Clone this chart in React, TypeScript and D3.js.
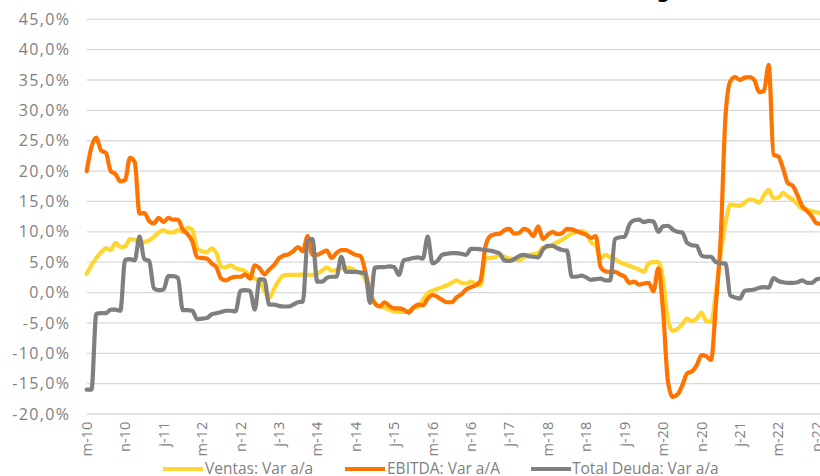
import React from "react";
import * as d3 from "d3";

// ---- DATA (monthly, year-on-year %, from m-10) ----
const START_YEAR = 2010;
const START_MONTH = 2; // March (0-based)
const MONTH_LETTERS = ["e", "f", "m", "a", "m", "j", "j", "a", "s", "o", "n", "d"];

const ventas = [
  3.1, 4.5, 5.7, 6.6, 7.3, 7.0, 8.2, 7.5, 7.6, 8.8, 8.7, 8.0, 8.3, 8.6, 9.2, 9.9,
  10.3, 9.9, 9.9, 10.3, 10.0, 10.7, 10.3, 7.3, 6.8, 6.6, 7.3, 6.5, 4.3, 4.2, 4.5, 4.0,
  3.8, 3.5, 2.7, 2.3, 1.8, 0.3, -0.9, 0.6, 2.0, 2.8, 2.9, 2.9, 2.9, 3.0, 2.9, 2.9,
  3.1, 3.6, 4.1, 3.6, 3.7, 4.0, 4.1, 4.0, 3.5, 3.2, 2.2, -0.2, -1.7, -2.2, -2.5, -2.8,
  -3.1, -3.2, -3.2, -3.0, -2.6, -2.3, -1.2, -0.1, 0.3, 0.6, 0.9, 1.2, 1.6, 2.0, 1.6, 1.5,
  1.8, 1.4, 1.2, 5.6, 5.7, 5.8, 6.2, 5.9, 5.6, 5.5, 5.3, 5.8, 6.2, 6.3, 6.5, 7.4,
  7.5, 7.9, 8.3, 8.7, 9.2, 9.7, 10.0, 10.1, 9.8, 8.3, 7.8, 5.6, 6.2, 5.8, 5.5, 5.0,
  4.7, 4.4, 4.1, 3.8, 3.4, 4.8, 5.0, 5.0, 2.0, -4.5, -6.3, -6.0, -5.2, -4.3, -4.7, -4.3,
  -3.3, -4.7, -4.8, 0.0, 6.5, 11.5, 14.5, 14.4, 14.3, 14.8, 15.3, 15.2, 14.8, 16.0, 16.9, 15.5,
  15.6, 16.4, 15.8, 15.3, 14.5, 13.8, 13.7, 13.4, 13.2, 13.0,
];

const ebitda = [
  20.0, 24.0, 25.5, 23.4, 23.0, 20.0, 19.5, 18.3, 18.5, 22.2, 21.5, 13.0, 13.1, 11.8, 11.4, 12.3,
  11.6, 12.3, 12.0, 12.0, 10.4, 9.6, 8.4, 5.8, 5.7, 5.6, 4.8, 4.2, 2.3, 2.0, 2.4, 2.6,
  2.6, 3.0, 2.3, 4.5, 4.0, 3.0, 3.8, 4.5, 5.6, 6.1, 6.3, 6.8, 7.5, 6.8, 9.3, 6.2,
  6.2, 6.6, 6.9, 5.7, 6.5, 7.0, 7.0, 6.6, 6.2, 6.0, 3.5, 0.0, -1.8, -2.3, -1.6, -2.2,
  -2.6, -2.6, -2.8, -3.3, -2.5, -2.0, -2.1, -1.0, -0.4, -0.7, -1.2, -1.6, -1.6, -0.8, -0.3, 0.5,
  0.9, 1.2, 2.0, 7.5, 9.3, 9.6, 9.7, 10.3, 10.5, 9.7, 9.8, 10.5, 10.2, 9.3, 10.9, 8.8,
  9.5, 10.0, 9.6, 9.8, 10.5, 10.4, 10.1, 9.8, 9.5, 9.0, 9.3, 4.2, 3.5, 3.4, 3.4, 3.0,
  2.6, 1.6, 1.8, 1.3, 1.5, 1.6, 0.2, 4.0, -3.0, -14.5, -17.2, -16.8, -15.3, -13.3, -13.0, -12.0,
  -10.3, -10.5, -11.1, -2.0, 9.0, 29.0, 34.8, 35.5, 35.0, 35.4, 35.5, 35.0, 33.0, 33.2, 37.5, 22.7,
  22.4, 20.4, 18.0, 17.6, 16.0, 14.2, 13.4, 12.5, 11.4, 11.3,
];

const deuda = [
  -16.0, -16.0, -3.5, -3.4, -3.4, -2.8, -2.8, -3.0, 5.4, 5.5, 5.3, 9.2, 5.5, 5.2, 0.7, 0.4,
  0.5, 2.7, 2.7, 2.4, -2.9, -2.9, -3.0, -4.4, -4.3, -4.2, -3.6, -3.4, -3.2, -3.0, -3.0, -3.1,
  0.3, 0.4, 0.3, -2.8, 2.2, 2.1, -2.0, -2.0, -2.2, -2.3, -2.3, -2.0, -1.6, -1.5, 8.5, 8.8,
  1.8, 1.8, 2.4, 2.6, 2.6, 5.9, 3.4, 3.4, 3.4, 3.3, 3.1, -1.7, 4.1, 4.2, 4.2, 4.3,
  4.2, 2.9, 5.3, 5.5, 5.7, 5.8, 5.6, 9.2, 4.8, 5.2, 6.2, 6.4, 6.5, 6.5, 6.4, 6.2,
  7.2, 7.2, 7.1, 7.0, 6.9, 6.7, 6.4, 5.3, 5.2, 5.5, 6.0, 6.2, 6.0, 5.9, 5.8, 7.1,
  7.7, 7.7, 7.3, 7.0, 6.9, 2.6, 2.6, 2.8, 2.5, 2.1, 2.2, 2.3, 2.0, 2.0, 8.8, 9.1,
  9.2, 11.2, 11.9, 12.0, 11.6, 11.8, 11.7, 10.0, 10.9, 11.0, 10.4, 10.0, 9.9, 8.2, 7.8, 7.7,
  6.1, 5.9, 5.9, 5.0, 4.8, 4.8, -0.5, -0.8, -1.0, 0.3, 0.4, 0.5, 0.8, 0.9, 0.8, 2.4,
  1.9, 1.7, 1.6, 1.6, 1.7, 2.0, 1.6, 1.6, 2.2, 2.3,
];

const yTicks = [-20, -15, -10, -5, 0, 5, 10, 15, 20, 25, 30, 35, 40, 45];
const LABEL_EVERY = 8;

const seriesNames = ["Ventas: Var a/a", "EBITDA: Var a/A", "Total Deuda: Var a/a"];
const seriesColors = ["#FFD530", "#FF7300", "#7F7F7F"];
const TITLE = "Evolución de Ventas EBITDA Deuda del Ranking";

// ---- derived ----
const categories = ventas.map((_, i) => {
  const m = (START_MONTH + i) % 12;
  const yr = START_YEAR + Math.floor((START_MONTH + i) / 12);
  return `${MONTH_LETTERS[m]}-${String(yr).slice(2)}#${i}`;
});
const catLabel = (c: string) => c.split("#")[0];

const W = 820;
const H = 476;
const LEFT = 86.7;
const STEP = 4.803;
const Y_TOP = 19.3;
const Y_BOT = 414;

const locale = d3.formatLocale({
  decimal: ",",
  thousands: ".",
  grouping: [3],
  currency: ["", "€"],
  minus: "-",
});
const fmt = locale.format(".1f");

export default function App() {
  const x = d3
    .scalePoint<string>()
    .domain(categories)
    .range([LEFT, LEFT + STEP * (categories.length - 1)]);
  const y = d3.scaleLinear().domain([-20, 45]).range([Y_BOT, Y_TOP]);

  const allSeries = [ventas, ebitda, deuda];
  const line = d3
    .line<number>()
    .x((_, i) => x(categories[i]) as number)
    .y((d) => y(d))
    .curve(d3.curveMonotoneX);

  const legend = [
    { x1: 163, x2: 203, tx: 205 },
    { x1: 345, x2: 385, tx: 387 },
    { x1: 531, x2: 571, tx: 572 },
  ];

  const font = "'Open Sans', 'DejaVu Sans', sans-serif";

  return (
    <svg
      width={W}
      height={H}
      style={{ position: "absolute", left: 0, top: 0, background: "#fff" }}
      fontFamily={font}
    >
      <text
        x={670}
        y={-2.5}
        textAnchor="end"
        fontFamily="'DejaVu Sans', sans-serif"
        fontWeight="bold"
        fontSize={19}
        fill="#000"
      >
        {TITLE}
      </text>

      {yTicks.map((t) => (
        <line
          key={"g" + t}
          x1={LEFT}
          x2={W + 10}
          y1={y(t)}
          y2={y(t)}
          stroke="#D9D9D9"
          strokeWidth={1.3}
        />
      ))}

      {yTicks.map((t) => (
        <text
          key={"yl" + t}
          x={70.5}
          y={y(t) + 5.6}
          textAnchor="end"
          fontSize={16}
          letterSpacing={1.4}
          fill="#7F7F7F"
        >
          {fmt(t) + "%"}
        </text>
      ))}

      {categories.map((c, i) =>
        i % LABEL_EVERY === 0 ? (
          <text
            key={"xl" + i}
            transform={`translate(${x(c)},${421.7}) rotate(-90)`}
            textAnchor="end"
            dy="0.35em"
            fontSize={14.6}
            fill="#7F7F7F"
          >
            {catLabel(c)}
          </text>
        ) : null
      )}

      {allSeries.map((s, k) => (
        <path
          key={"s" + k}
          d={line(s) || ""}
          fill="none"
          stroke={seriesColors[k]}
          strokeWidth={4.2}
          strokeLinejoin="round"
          strokeLinecap="round"
        />
      ))}

      {legend.map((l, k) => (
        <g key={"lg" + k}>
          <line
            x1={l.x1}
            x2={l.x2}
            y1={469}
            y2={469}
            stroke={seriesColors[k]}
            strokeWidth={4}
          />
          <text x={l.tx} y={474} fontSize={15.5} fill="#7F7F7F">
            {seriesNames[k]}
          </text>
        </g>
      ))}
    </svg>
  );
}
